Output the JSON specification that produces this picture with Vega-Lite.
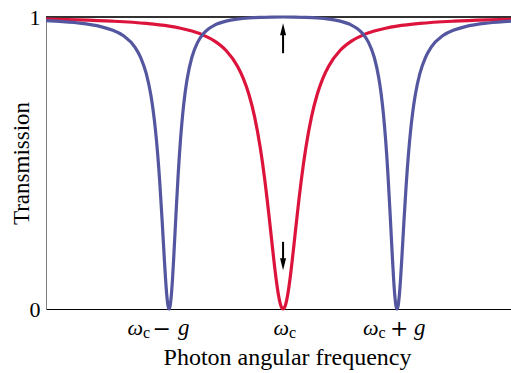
{
  "$schema": "https://vega.github.io/schema/vega-lite/v6.json",
  "width": 465,
  "height": 292,
  "autosize": {"type": "none"},
  "padding": {"left": 46, "top": 17, "right": 0, "bottom": 64},
  "background": "white",
  "config": {"view": {"stroke": null}, "font": "Liberation Serif"},
  "datasets": {
    "red": [
      {"w": -2.08, "T": 0.9926}, {"w": -2.0, "T": 0.992}, {"w": -1.8, "T": 0.9901}, {"w": -1.5, "T": 0.9858},
      {"w": -1.2, "T": 0.978}, {"w": -1.0, "T": 0.9686}, {"w": -0.9, "T": 0.9615}, {"w": -0.8, "T": 0.9518},
      {"w": -0.7, "T": 0.938}, {"w": -0.6, "T": 0.9174}, {"w": -0.5, "T": 0.8853}, {"w": -0.4, "T": 0.8316},
      {"w": -0.35, "T": 0.7908}, {"w": -0.3, "T": 0.7353}, {"w": -0.25, "T": 0.6586}, {"w": -0.2, "T": 0.5525},
      {"w": -0.18, "T": 0.5}, {"w": -0.16, "T": 0.4414}, {"w": -0.14, "T": 0.3769}, {"w": -0.12, "T": 0.3077},
      {"w": -0.1, "T": 0.2358}, {"w": -0.08, "T": 0.1649}, {"w": -0.06, "T": 0.1}, {"w": -0.04, "T": 0.0471},
      {"w": -0.02, "T": 0.0122}, {"w": 0, "T": 0},
      {"w": 0.02, "T": 0.0122}, {"w": 0.04, "T": 0.0471}, {"w": 0.06, "T": 0.1}, {"w": 0.08, "T": 0.1649},
      {"w": 0.1, "T": 0.2358}, {"w": 0.12, "T": 0.3077}, {"w": 0.14, "T": 0.3769}, {"w": 0.16, "T": 0.4414},
      {"w": 0.18, "T": 0.5}, {"w": 0.2, "T": 0.5525}, {"w": 0.25, "T": 0.6586}, {"w": 0.3, "T": 0.7353},
      {"w": 0.35, "T": 0.7908}, {"w": 0.4, "T": 0.8316}, {"w": 0.5, "T": 0.8853}, {"w": 0.6, "T": 0.9174},
      {"w": 0.7, "T": 0.938}, {"w": 0.8, "T": 0.9518}, {"w": 0.9, "T": 0.9615}, {"w": 1.0, "T": 0.9686},
      {"w": 1.2, "T": 0.978}, {"w": 1.5, "T": 0.9858}, {"w": 1.8, "T": 0.9901}, {"w": 2.0, "T": 0.992}
    ],
    "blue": [
      {"w": -2.08, "T": 0.9875}, {"w": -2.0, "T": 0.9858}, {"w": -1.8, "T": 0.9795}, {"w": -1.6, "T": 0.967},
      {"w": -1.5, "T": 0.9554}, {"w": -1.4, "T": 0.9355}, {"w": -1.3, "T": 0.8969}, {"w": -1.25, "T": 0.8621},
      {"w": -1.2, "T": 0.8058}, {"w": -1.16, "T": 0.7326}, {"w": -1.14, "T": 0.6807}, {"w": -1.12, "T": 0.6143},
      {"w": -1.1, "T": 0.5294}, {"w": -1.09, "T": 0.4789}, {"w": -1.08, "T": 0.4229}, {"w": -1.06, "T": 0.2956},
      {"w": -1.04, "T": 0.1597}, {"w": -1.03, "T": 0.0974}, {"w": -1.02, "T": 0.0462}, {"w": -1.01, "T": 0.0121},
      {"w": -1.0, "T": 0}, {"w": -0.99, "T": 0.0123}, {"w": -0.98, "T": 0.048}, {"w": -0.97, "T": 0.1028},
      {"w": -0.96, "T": 0.1707}, {"w": -0.94, "T": 0.3212}, {"w": -0.92, "T": 0.4625}, {"w": -0.91, "T": 0.5241},
      {"w": -0.9, "T": 0.579}, {"w": -0.88, "T": 0.6698}, {"w": -0.86, "T": 0.7389}, {"w": -0.84, "T": 0.7913},
      {"w": -0.8, "T": 0.8621}, {"w": -0.75, "T": 0.9131}, {"w": -0.7, "T": 0.9425}, {"w": -0.65, "T": 0.9606},
      {"w": -0.6, "T": 0.9723}, {"w": -0.5, "T": 0.9858}, {"w": -0.4, "T": 0.9927}, {"w": -0.3, "T": 0.9965},
      {"w": -0.2, "T": 0.9986}, {"w": -0.1, "T": 0.9997}, {"w": 0, "T": 1},
      {"w": 0.1, "T": 0.9997}, {"w": 0.2, "T": 0.9986}, {"w": 0.3, "T": 0.9965}, {"w": 0.4, "T": 0.9927},
      {"w": 0.5, "T": 0.9858}, {"w": 0.6, "T": 0.9723}, {"w": 0.65, "T": 0.9606}, {"w": 0.7, "T": 0.9425},
      {"w": 0.75, "T": 0.9131}, {"w": 0.8, "T": 0.8621}, {"w": 0.84, "T": 0.7913}, {"w": 0.86, "T": 0.7389},
      {"w": 0.88, "T": 0.6698}, {"w": 0.9, "T": 0.579}, {"w": 0.91, "T": 0.5241}, {"w": 0.92, "T": 0.4625},
      {"w": 0.94, "T": 0.3212}, {"w": 0.96, "T": 0.1707}, {"w": 0.97, "T": 0.1028}, {"w": 0.98, "T": 0.048},
      {"w": 0.99, "T": 0.0123}, {"w": 1.0, "T": 0}, {"w": 1.01, "T": 0.0121}, {"w": 1.02, "T": 0.0462},
      {"w": 1.03, "T": 0.0974}, {"w": 1.04, "T": 0.1597}, {"w": 1.06, "T": 0.2956}, {"w": 1.08, "T": 0.4229},
      {"w": 1.09, "T": 0.4789}, {"w": 1.1, "T": 0.5294}, {"w": 1.12, "T": 0.6143}, {"w": 1.14, "T": 0.6807},
      {"w": 1.16, "T": 0.7326}, {"w": 1.2, "T": 0.8058}, {"w": 1.25, "T": 0.8621}, {"w": 1.3, "T": 0.8969},
      {"w": 1.4, "T": 0.9355}, {"w": 1.5, "T": 0.9554}, {"w": 1.6, "T": 0.967}, {"w": 1.8, "T": 0.9795},
      {"w": 2.0, "T": 0.9858}
    ],
    "arrows": [
      {"w": 0, "a": 0.876, "b": 0.95, "head": 0.958, "dir": "up"},
      {"w": 0, "a": 0.23, "b": 0.165, "head": 0.153, "dir": "down"}
    ],
    "lab": [
      {"w": -1, "main": "ω", "sub": "c", "op": "−", "v": "g"},
      {"w": 0, "main": "ω", "sub": "c", "op": "", "v": ""},
      {"w": 1, "main": "ω", "sub": "c", "op": "+", "v": "g"}
    ]
  },
  "layer": [
    {
      "data": {"name": "red"},
      "mark": {"type": "rule", "color": "#333333", "strokeWidth": 1},
      "encoding": {"y": {"datum": 1, "type": "quantitative"}}
    },
    {
      "data": {"name": "red"},
      "mark": {"type": "line", "strokeWidth": 3.2, "interpolate": "monotone", "color": "#DC143C"},
      "encoding": {
        "x": {"field": "w", "type": "quantitative", "scale": {"domain": [-2.08, 2.0], "nice": false, "zero": false},
          "axis": {"labels": false, "ticks": false, "grid": false, "domainColor": "black", "domainWidth": 1,
            "title": "Photon angular frequency", "titleFont": "Liberation Serif", "titleFontSize": 24,
            "titleFontWeight": "normal", "titleColor": "black", "titleX": 241, "titleY": 55,
            "titleAlign": "center", "titleBaseline": "alphabetic"}},
        "y": {"field": "T", "type": "quantitative", "scale": {"domain": [0, 1], "nice": false},
          "axis": {"values": [0, 1], "format": "d", "ticks": false, "grid": false, "domainColor": "#808080", "domainWidth": 1,
            "labelFont": "Liberation Serif", "labelFontSize": 22, "labelColor": "black", "labelPadding": 6,
            "title": "Transmission", "titleFont": "Liberation Serif", "titleFontSize": 23,
            "titleFontWeight": "normal", "titleColor": "black", "titleX": -18, "titleY": 146,
            "titleAngle": -90, "titleAlign": "center", "titleBaseline": "alphabetic"}}
      }
    },
    {
      "data": {"name": "blue"},
      "mark": {"type": "line", "strokeWidth": 3.2, "interpolate": "monotone", "color": "#5457A0"},
      "encoding": {
        "x": {"field": "w", "type": "quantitative"},
        "y": {"field": "T", "type": "quantitative"}
      }
    },
    {
      "data": {"name": "arrows"},
      "mark": {"type": "rule", "color": "black", "strokeWidth": 2},
      "encoding": {
        "x": {"field": "w", "type": "quantitative"},
        "y": {"field": "a", "type": "quantitative"},
        "y2": {"field": "b"}
      }
    },
    {
      "data": {"name": "arrows"},
      "mark": {"type": "point", "filled": true, "color": "black", "opacity": 1, "size": 144, "strokeWidth": 0},
      "encoding": {
        "x": {"field": "w", "type": "quantitative"},
        "y": {"field": "head", "type": "quantitative"},
        "shape": {"field": "dir", "type": "nominal", "scale": {"domain": ["up", "down"], "range": ["M-0.5,1L0,-1L0.5,1Z", "M-0.5,-1L0,1L0.5,-1Z"]}, "legend": null}
      }
    },
    {
      "data": {"name": "lab"}, "transform": [{"filter": "datum.w == -1"}],
      "mark": {"type": "text", "align": "left", "baseline": "alphabetic", "dx": -41.5, "dy": 26, "font": "Liberation Serif", "fontStyle": "italic", "fontSize": 22, "color": "black"},
      "encoding": {"x": {"field": "w", "type": "quantitative"}, "y": {"datum": 0, "type": "quantitative"}, "text": {"field": "main"}}
    },
    {
      "data": {"name": "lab"}, "transform": [{"filter": "datum.w == -1"}],
      "mark": {"type": "text", "align": "left", "baseline": "alphabetic", "dx": -26, "dy": 29, "font": "Liberation Serif", "fontSize": 16, "color": "black"},
      "encoding": {"x": {"field": "w", "type": "quantitative"}, "y": {"datum": 0, "type": "quantitative"}, "text": {"field": "sub"}}
    },
    {
      "data": {"name": "lab"}, "transform": [{"filter": "datum.w == -1"}],
      "mark": {"type": "text", "align": "left", "baseline": "alphabetic", "dx": -16.5, "dy": 27, "font": "DejaVu Serif", "fontSize": 22, "color": "black"},
      "encoding": {"x": {"field": "w", "type": "quantitative"}, "y": {"datum": 0, "type": "quantitative"}, "text": {"field": "op"}}
    },
    {
      "data": {"name": "lab"}, "transform": [{"filter": "datum.w == -1"}],
      "mark": {"type": "text", "align": "left", "baseline": "alphabetic", "dx": 9, "dy": 26, "font": "Liberation Serif", "fontStyle": "italic", "fontSize": 23, "color": "black"},
      "encoding": {"x": {"field": "w", "type": "quantitative"}, "y": {"datum": 0, "type": "quantitative"}, "text": {"field": "v"}}
    },
    {
      "data": {"name": "lab"}, "transform": [{"filter": "datum.w == 0"}],
      "mark": {"type": "text", "align": "left", "baseline": "alphabetic", "dx": -9.5, "dy": 26, "font": "Liberation Serif", "fontStyle": "italic", "fontSize": 22, "color": "black"},
      "encoding": {"x": {"field": "w", "type": "quantitative"}, "y": {"datum": 0, "type": "quantitative"}, "text": {"field": "main"}}
    },
    {
      "data": {"name": "lab"}, "transform": [{"filter": "datum.w == 0"}],
      "mark": {"type": "text", "align": "left", "baseline": "alphabetic", "dx": 6, "dy": 29, "font": "Liberation Serif", "fontSize": 16, "color": "black"},
      "encoding": {"x": {"field": "w", "type": "quantitative"}, "y": {"datum": 0, "type": "quantitative"}, "text": {"field": "sub"}}
    },
    {
      "data": {"name": "lab"}, "transform": [{"filter": "datum.w == 1"}],
      "mark": {"type": "text", "align": "left", "baseline": "alphabetic", "dx": -34, "dy": 26, "font": "Liberation Serif", "fontStyle": "italic", "fontSize": 22, "color": "black"},
      "encoding": {"x": {"field": "w", "type": "quantitative"}, "y": {"datum": 0, "type": "quantitative"}, "text": {"field": "main"}}
    },
    {
      "data": {"name": "lab"}, "transform": [{"filter": "datum.w == 1"}],
      "mark": {"type": "text", "align": "left", "baseline": "alphabetic", "dx": -18.5, "dy": 29, "font": "Liberation Serif", "fontSize": 16, "color": "black"},
      "encoding": {"x": {"field": "w", "type": "quantitative"}, "y": {"datum": 0, "type": "quantitative"}, "text": {"field": "sub"}}
    },
    {
      "data": {"name": "lab"}, "transform": [{"filter": "datum.w == 1"}],
      "mark": {"type": "text", "align": "left", "baseline": "alphabetic", "dx": -7, "dy": 27, "font": "DejaVu Serif", "fontSize": 22, "color": "black"},
      "encoding": {"x": {"field": "w", "type": "quantitative"}, "y": {"datum": 0, "type": "quantitative"}, "text": {"field": "op"}}
    },
    {
      "data": {"name": "lab"}, "transform": [{"filter": "datum.w == 1"}],
      "mark": {"type": "text", "align": "left", "baseline": "alphabetic", "dx": 17, "dy": 26, "font": "Liberation Serif", "fontStyle": "italic", "fontSize": 23, "color": "black"},
      "encoding": {"x": {"field": "w", "type": "quantitative"}, "y": {"datum": 0, "type": "quantitative"}, "text": {"field": "v"}}
    }
  ]
}
